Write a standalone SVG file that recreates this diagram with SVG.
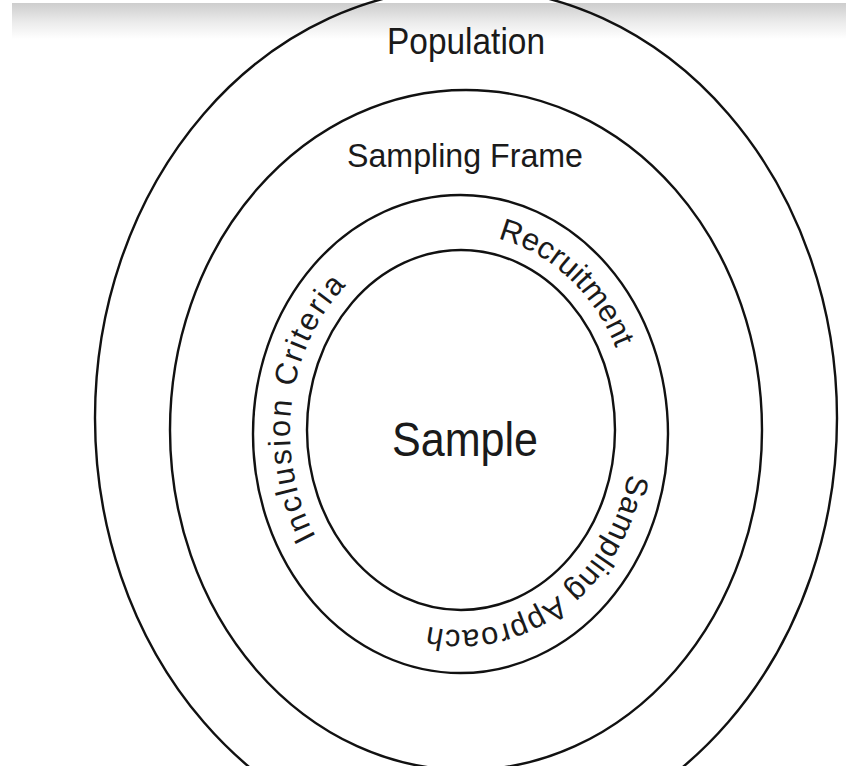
<svg xmlns="http://www.w3.org/2000/svg" width="846" height="766" viewBox="0 0 846 766">
  <defs>
    <linearGradient id="topShade" x1="0" y1="0" x2="0" y2="1">
      <stop offset="0" stop-color="#cdcdcd"/>
      <stop offset="0.55" stop-color="#ececec"/>
      <stop offset="1" stop-color="#ffffff"/>
    </linearGradient>
    <path id="ringPath" d="M 461 234 A 171 198 0 1 1 461 630 A 171 198 0 1 1 461 234"/>
    <style>
      .ring { fill: none; stroke: #111; stroke-width: 2.4; }
      .lbl { font-family: "Liberation Sans", Arial, sans-serif; fill: #1a1a1a; }
      .arc { font-size: 31px; }
    </style>
  </defs>
  <rect x="0" y="0" width="846" height="766" fill="#ffffff"/>
  <rect x="12" y="3" width="834" height="36" fill="url(#topShade)"/>

  <g id="population">
    <ellipse class="ring" cx="466" cy="418" rx="371" ry="430"/>
    <text class="lbl" x="466" y="54" font-size="37" text-anchor="middle" textLength="158" lengthAdjust="spacingAndGlyphs">Population</text>
  </g>
  <g id="sampling-frame">
    <ellipse class="ring" cx="466" cy="430" rx="296" ry="340"/>
    <text class="lbl" x="465" y="167" font-size="34" text-anchor="middle" textLength="236" lengthAdjust="spacingAndGlyphs">Sampling Frame</text>
  </g>
  <g id="criteria-ring">
    <ellipse class="ring" cx="460.5" cy="434" rx="207.5" ry="239"/>
    <text class="lbl arc"><textPath href="#ringPath" startOffset="37">Recruitment</textPath></text>
    <text class="lbl arc" letter-spacing="0.8"><textPath href="#ringPath" startOffset="332">Sampling Approach</textPath></text>
    <text class="lbl arc" letter-spacing="2.3"><textPath href="#ringPath" startOffset="761">Inclusion Criteria</textPath></text>
  </g>
  <g id="sample">
    <ellipse class="ring" cx="461" cy="430" rx="154" ry="180"/>
    <text class="lbl" x="465" y="456" font-size="48" text-anchor="middle" textLength="146" lengthAdjust="spacingAndGlyphs">Sample</text>
  </g>
</svg>
